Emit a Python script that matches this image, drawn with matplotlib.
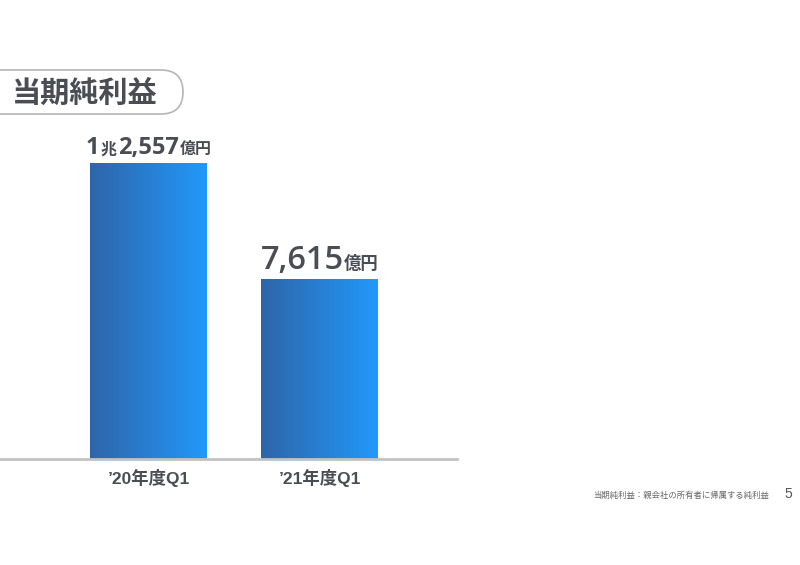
import matplotlib
matplotlib.use("Agg")
import matplotlib.pyplot as plt
import numpy as np
from matplotlib.colors import LinearSegmentedColormap
from matplotlib.offsetbox import TextArea, HPacker, AnnotationBbox
from matplotlib.patches import FancyBboxPatch

plt.rcParams["font.family"] = ["Noto Sans CJK JP", "DejaVu Sans"]
LATIN = ["Liberation Sans", "Noto Sans CJK JP"]
DIGITS = ["Open Sans", "Noto Sans CJK JP"]

# data
categories = ["’20年度Q1", "’21年度Q1"]
values = [12557, 7615]  # 億円
# value labels split into (text, big?) pieces
label_parts = [
    [("1", True), ("兆", False), ("2,557", True), ("億円", False)],
    [("7,615", True), ("億円", False)],
]
title = "当期純利益"
footnote = "当期純利益：親会社の所有者に帰属する純利益"
page_no = "5"

TEXT = "#4a4e54"
W, H = 800, 565

fig = plt.figure(figsize=(W / 100, H / 100), dpi=100)

# chart axes: baseline at y=459px, x from 0 to 457px
ax_bottom = 1 - 459 / H
ax_top = 1 - 140 / H
ax = fig.add_axes([0, ax_bottom, 457 / W, ax_top - ax_bottom])
ymax = values[0] * (459 - 140) / (459 - 163)
for s in ["top", "right", "left"]:
    ax.spines[s].set_visible(False)
ax.spines["bottom"].set_color("#c2c2c2")
ax.spines["bottom"].set_linewidth(2)
ax.set_yticks([])
x = np.arange(len(values))
ax.set_xticks(x)
ax.set_xticklabels(categories, fontsize=12.5, color=TEXT, fontweight="bold",
                   family=LATIN)
ax.tick_params(axis="x", length=0, pad=7)

cmap = LinearSegmentedColormap.from_list("bar", ["#2f65a9", "#2199fa"])
grad = np.linspace(0, 1, 256).reshape(1, -1)
width = 117 / 171
bars = ax.bar(x, values, width=width, color="none", edgecolor="none")
for b in bars:
    x0, y0 = b.get_x(), b.get_y()
    im = ax.imshow(grad, cmap=cmap, aspect="auto",
                   extent=[x0, x0 + b.get_width(), y0, y0 + b.get_height()],
                   zorder=2)
    im.set_clip_path(b)
ax.set_xlim(-148.5 / 171, (457 - 148.5) / 171)
ax.set_ylim(0, ymax)

# value labels with mixed sizes
sizes = [(17, 11.5, "bold", 1), (23.5, 12.5, "semibold", 0)]
for i, parts in enumerate(label_parts):
    big, small, wt, sep = sizes[i]
    children = []
    for txt, is_big in parts:
        if is_big:
            props = dict(fontsize=big, color=TEXT, fontweight=wt, family=DIGITS)
        else:
            props = dict(fontsize=small, color=TEXT, fontweight="bold")
        children.append(TextArea(txt, textprops=props))
    pack = HPacker(children=children, align="baseline", pad=0, sep=sep)
    ab = AnnotationBbox(pack, (x[i], values[i]), xybox=(0, 2),
                        xycoords="data", boxcoords="offset points",
                        box_alignment=(0.5, 0), frameon=False)
    ax.add_artist(ab)

# overlay in pixel coords for title pill and footnote
ov = fig.add_axes([0, 0, 1, 1])
ov.set_xlim(0, W)
ov.set_ylim(H, 0)
ov.axis("off")
ov.patch.set_alpha(0)
pill = FancyBboxPatch((-40, 70), 223, 44,
                      boxstyle="round,pad=0,rounding_size=22",
                      facecolor="white", edgecolor="#b5b5b5", linewidth=1.2)
ov.add_patch(pill)
ov.text(85, 93, title, fontsize=21, fontweight="bold", color=TEXT,
        ha="center", va="center")
ov.text(769, 495, footnote, fontsize=6.0, color="#666666",
        ha="right", va="center")
ov.text(788, 494, page_no, fontsize=10, color="#555555",
        ha="center", va="center", family=LATIN)

fig.savefig("out.png", dpi=100, facecolor="white")
